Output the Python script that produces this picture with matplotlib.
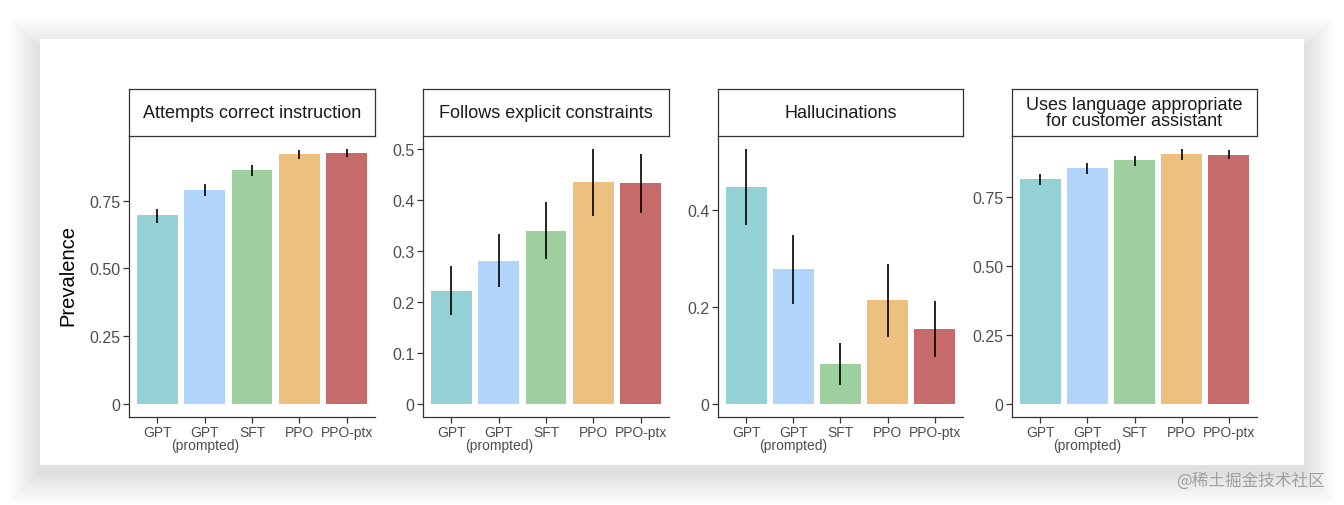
import matplotlib.pyplot as plt
from matplotlib.patches import Rectangle

plt.rcParams['font.family'] = ['Liberation Sans', 'DejaVu Sans']

W, H = 1344, 506

models = ["GPT", "GPT\n(prompted)", "SFT", "PPO", "PPO-ptx"]
colors = ["#94D1D4", "#B1D4FB", "#9DCF9F", "#EDC080", "#C76A6A"]

titles = ["Attempts correct instruction", "Follows explicit constraints",
          "Hallucinations", "Uses language appropriate\nfor customer assistant"]

# bar heights, lower and upper ends of the error bars
correct = [0.698, 0.788, 0.861, 0.922, 0.926]
correct_lo = [0.668, 0.768, 0.842, 0.904, 0.911]
correct_hi = [0.719, 0.811, 0.880, 0.938, 0.941]

constraints = [0.2225, 0.281, 0.339, 0.4345, 0.4325]
constraints_lo = [0.174, 0.229, 0.284, 0.369, 0.374]
constraints_hi = [0.271, 0.333, 0.395, 0.500, 0.490]

halluc = [0.447, 0.278, 0.0825, 0.214, 0.155]
halluc_lo = [0.368, 0.2055, 0.039, 0.139, 0.0976]
halluc_hi = [0.525, 0.348, 0.126, 0.289, 0.212]

language = [0.814, 0.854, 0.882, 0.905, 0.901]
language_lo = [0.792, 0.832, 0.861, 0.884, 0.887]
language_hi = [0.833, 0.872, 0.897, 0.923, 0.918]

yticks = [[0, 0.25, 0.5, 0.75], [0, 0.1, 0.2, 0.3, 0.4, 0.5],
          [0, 0.2, 0.4], [0, 0.25, 0.5, 0.75]]
ytick_labels = [["0", "0.25", "0.50", "0.75"],
                ["0", "0.1", "0.2", "0.3", "0.4", "0.5"],
                ["0", "0.2", "0.4"],
                ["0", "0.25", "0.50", "0.75"]]

panels = [(correct, correct_lo, correct_hi),
          (constraints, constraints_lo, constraints_hi),
          (halluc, halluc_lo, halluc_hi),
          (language, language_lo, language_hi)]

# panel left/right edges in pixels
panel_x = [(129, 375), (423, 669), (718, 963), (1012, 1257)]
plot_top, plot_bottom, strip_top = 137, 418, 90


def fx(px):
    return px / W


def fy(py):
    return 1 - py / H


fig = plt.figure(figsize=(W / 100, H / 100), dpi=100)
fig.patch.set_facecolor("white")

# soft shadow round the white card, heavier below
for i in range(16):
    m = 1 + i * 2.0
    fig.patches.append(Rectangle((fx(40 - m), fy(466 + m + 8)), fx(1264 + 2 * m), (426 + 2 * m - 2) / H,
                                 transform=fig.transFigure, facecolor="#000000", alpha=0.006,
                                 edgecolor="none", zorder=-3))
fig.patches.append(Rectangle((fx(40), fy(466)), fx(1264), 426 / H, transform=fig.transFigure,
                             facecolor="white", edgecolor="none", zorder=-2))

x = list(range(len(models)))
for k, (vals, lo, hi) in enumerate(panels):
    x0, x1 = panel_x[k]
    ax = fig.add_axes([fx(x0), fy(plot_bottom), fx(x1 - x0), (plot_bottom - plot_top) / H])
    ax.set_facecolor("none")
    ax.bar(x, vals, width=0.86, color=colors, zorder=2)
    ax.vlines(x, lo, hi, color="black", linewidth=1.2, zorder=3)
    top = max(hi)
    ax.set_ylim(-0.05 * top, top * 1.05)
    ax.set_xlim(-0.6, 4.6)
    ax.set_xticks(x)
    ax.set_xticklabels(models, fontsize=10, color="#4D4D4D", linespacing=0.85)
    ax.set_yticks(yticks[k])
    ax.set_yticklabels(ytick_labels[k], fontsize=11.5, color="#4D4D4D")
    for s in ["top", "right"]:
        ax.spines[s].set_visible(False)
    for s in ["left", "bottom"]:
        ax.spines[s].set_color("#333333")
        ax.spines[s].set_linewidth(0.9)
    ax.tick_params(length=4, width=0.9, color="#333333", pad=2)

    strip = fig.add_axes([fx(x0), fy(plot_top), fx(x1 - x0), (plot_top - strip_top) / H])
    strip.set_xticks([])
    strip.set_yticks([])
    strip.set_facecolor("white")
    for s in strip.spines.values():
        s.set_color("#333333")
        s.set_linewidth(0.9)
    strip.text(0.5, 0.5, titles[k], ha="center", va="center", fontsize=13,
               color="#1A1A1A", linespacing=1.0, transform=strip.transAxes)

fig.text(fx(68), fy(276), "Prevalence", rotation=90, ha="center", va="center", fontsize=14.5,
         color="black")

fig.text(fx(1325), fy(481), "@稀土掘金技术社区", ha="right", va="center", fontsize=12,
         color="#A0A0A0", family=["Noto Sans CJK SC", "DejaVu Sans"])

fig.savefig("out.png", dpi=100)
